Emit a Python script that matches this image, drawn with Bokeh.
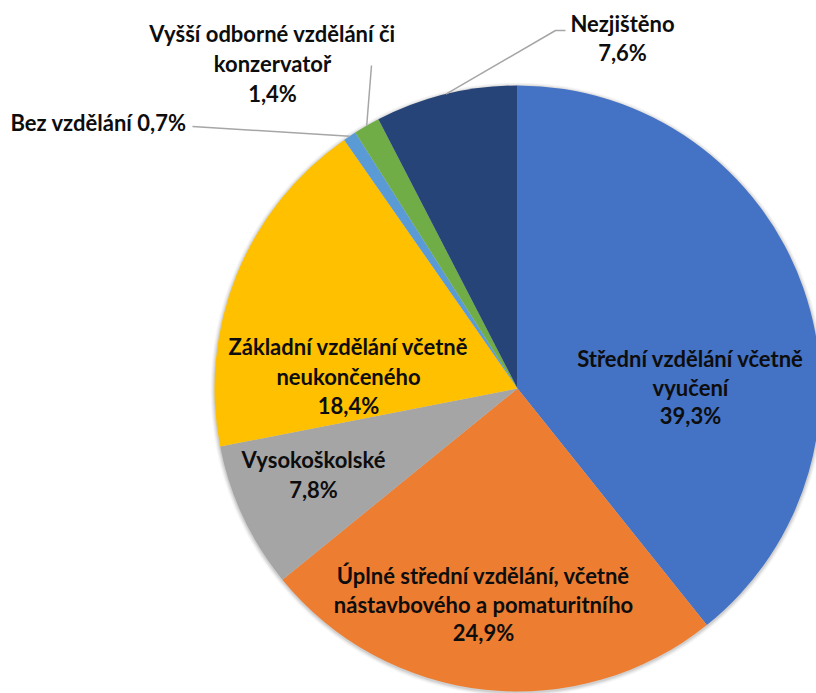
import math
from bokeh.plotting import figure
from bokeh.models import Range1d, ColumnDataSource
from bokeh.core.properties import value
from bokeh.embed import file_html
from bokeh.resources import INLINE

# ---- data ----
categories = [
    "Střední vzdělání včetně vyučení",
    "Úplné střední vzdělání, včetně nástavbového a pomaturitního",
    "Vysokoškolské",
    "Základní vzdělání včetně neukončeného",
    "Bez vzdělání",
    "Vyšší odborné vzdělání či konzervatoř",
    "Nezjištěno",
]
shares = [39.3, 24.9, 7.8, 18.4, 0.7, 1.4, 7.6]
pct_labels = ["39,3%", "24,9%", "7,8%", "18,4%", "0,7%", "1,4%", "7,6%"]
colors = ["#4472C4", "#ED7D31", "#A5A5A5", "#FFC000", "#5B9BD5", "#70AD47", "#264478"]

# label text lines (category name wrapped as in the chart)
label_lines = [
    ["Střední vzdělání včetně", "vyučení", "39,3%"],
    ["Úplné střední vzdělání, včetně", "nástavbového a pomaturitního", "24,9%"],
    ["Vysokoškolské", "7,8%"],
    ["Základní vzdělání včetně", "neukončeného", "18,4%"],
    ["Bez vzdělání 0,7%"],
    ["Vyšší odborné vzdělání či", "konzervatoř", "1,4%"],
    ["Nezjištěno", "7,6%"],
]

# ---- layout (screen pixel coordinates of page) ----
W, H = 816, 693
CX, CY, R = 517, 388, 303           # pie centre / radius (screen px)
FONT = "Lato"
FSIZE = 22
# label centre of first line (screen px)
label_pos = [
    (690, 358),
    (483, 575),
    (313, 459),
    (348, 346),
    (98, 122),
    (272, 33),
    (622, 23),
]
label_spacing = [28.5, 28.5, 29.5, 29.5, 0, 30, 29]
# leader lines: label-side points (screen px); slice end computed from data
leaders = {
    4: [(192, 126)],
    5: [(371, 65)],
    6: [(565, 30), (555, 30)],
}

def sy(y):
    return H - y

p = figure(width=W, height=H, output_backend="svg", toolbar_location=None,
           x_range=Range1d(0, W), y_range=Range1d(0, H),
           x_axis_location=None, y_axis_location=None, min_border=0,
           outline_line_color=None, background_fill_color="white",
           border_fill_color="white")
p.grid.visible = False

total = sum(shares)
starts, ends, mids = [], [], []
cum = 0.0
for s in shares:
    a0 = math.pi / 2 - 2 * math.pi * cum / total
    cum += s
    a1 = math.pi / 2 - 2 * math.pi * cum / total
    starts.append(a0)
    ends.append(a1)
    mids.append((a0 + a1) / 2)

# soft shadow
for dr, al in [(4, 0.03), (3, 0.04), (2, 0.05), (1, 0.07)]:
    p.circle(x=[CX], y=[sy(CY) - 1], radius=R + dr, fill_color="#000000",
             fill_alpha=al, line_color=None)

src = ColumnDataSource(dict(start=starts, end=ends, color=colors, cat=categories))
p.wedge(x=CX, y=sy(CY), radius=R, start_angle="start", end_angle="end",
        direction="clock", fill_color="color", line_color=None, source=src)

# leader lines
for idx, pts in leaders.items():
    ex = CX + R * math.cos(mids[idx])
    ey = sy(CY) + R * math.sin(mids[idx])
    xs = [q[0] for q in pts] + [ex]
    ys = [sy(q[1]) for q in pts] + [ey]
    p.line(xs, ys, line_color="#A6A6A6", line_width=1.5)

# labels
tx, ty, tt = [], [], []
for i, lines in enumerate(label_lines):
    x0, y0 = label_pos[i]
    for j, t in enumerate(lines):
        tx.append(x0)
        ty.append(sy(y0 + j * label_spacing[i]))
        tt.append(t)
p.text(x=tx, y=ty, text=tt, text_font=value(FONT), text_font_style="bold",
       text_font_size=f"{FSIZE}px", text_align="center", text_baseline="middle",
       text_color="#0D0D0D")

open("out.html", "w").write(file_html(p, INLINE))
